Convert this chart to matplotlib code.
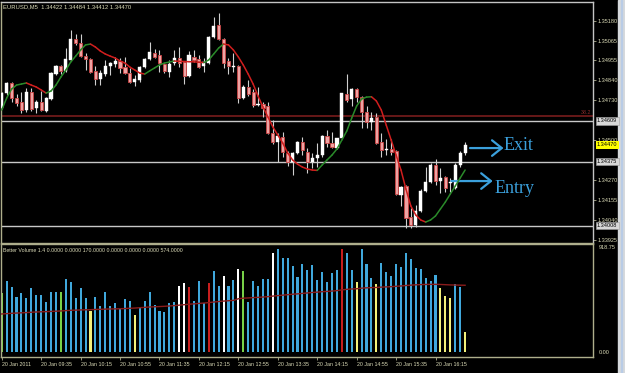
import matplotlib
matplotlib.use('Agg')
import matplotlib.pyplot as plt
import matplotlib.transforms as mtrans
from matplotlib.patches import Rectangle
from matplotlib.collections import LineCollection
import numpy as np

# ---------------- data ----------------
opens = [1.34681, 1.34767, 1.34825, 1.34739, 1.34716, 1.34670, 1.34773, 1.34681, 1.34716, 1.34664,
         1.34733, 1.34876, 1.34922, 1.34894, 1.34957, 1.35077, 1.35054, 1.34979, 1.34962, 1.34894,
         1.34848, 1.34876, 1.34922, 1.34934, 1.34951, 1.34916, 1.34882, 1.34830, 1.34842, 1.34916,
         1.34962, 1.34997, 1.34985, 1.34934, 1.34888, 1.34939, 1.34968, 1.34945, 1.34865, 1.34974,
         1.34962, 1.34922, 1.34939, 1.35088, 1.35157, 1.35077, 1.34951, 1.34916, 1.34922, 1.34739,
         1.34802, 1.34773, 1.34699, 1.34704, 1.34693, 1.34538, 1.34487, 1.34515, 1.34424, 1.34372,
         1.34424, 1.34487, 1.34429, 1.34372, 1.34395, 1.34412, 1.34521, 1.34481, 1.34452, 1.34510,
         1.34762, 1.34733, 1.34790, 1.34744, 1.34659, 1.34601, 1.34630, 1.34487, 1.34441, 1.34447,
         1.34435, 1.34183, 1.34234, 1.34057, 1.34011, 1.34091, 1.34206, 1.34258, 1.34355, 1.34263,
         1.34286, 1.34252, 1.34223, 1.34355, 1.34422]
highs = [1.34773, 1.34830, 1.34830, 1.34762, 1.34773, 1.34796, 1.34796, 1.34727, 1.34779, 1.34744,
         1.34888, 1.34928, 1.34928, 1.35025, 1.35128, 1.35106, 1.35106, 1.34997, 1.34968, 1.34922,
         1.34899, 1.34957, 1.34945, 1.34974, 1.34968, 1.34974, 1.34911, 1.34871, 1.34922, 1.34968,
         1.35060, 1.35020, 1.35014, 1.34939, 1.34957, 1.35014, 1.35031, 1.34951, 1.35008, 1.35014,
         1.34985, 1.34968, 1.35092, 1.35203, 1.35226, 1.35083, 1.34968, 1.34997, 1.34928, 1.34813,
         1.34842, 1.34790, 1.34802, 1.34716, 1.34716, 1.34613, 1.34538, 1.34544, 1.34435, 1.34429,
         1.34492, 1.34515, 1.34452, 1.34424, 1.34481, 1.34527, 1.34555, 1.34544, 1.34510, 1.34770,
         1.34876, 1.34796, 1.34796, 1.34750, 1.34693, 1.34659, 1.34653, 1.34538, 1.34504, 1.34504,
         1.34441, 1.34234, 1.34240, 1.34108, 1.34126, 1.34217, 1.34343, 1.34366, 1.34389, 1.34338,
         1.34292, 1.34280, 1.34366, 1.34435, 1.34484]
lows = [1.34676, 1.34756, 1.34716, 1.34693, 1.34653, 1.34659, 1.34664, 1.34653, 1.34664, 1.34659,
        1.34727, 1.34871, 1.34876, 1.34888, 1.34951, 1.35043, 1.34974, 1.34899, 1.34882, 1.34813,
        1.34813, 1.34865, 1.34871, 1.34916, 1.34882, 1.34876, 1.34825, 1.34808, 1.34830, 1.34911,
        1.34957, 1.34968, 1.34888, 1.34882, 1.34859, 1.34928, 1.34916, 1.34819, 1.34859, 1.34945,
        1.34911, 1.34888, 1.34934, 1.35083, 1.35071, 1.34911, 1.34876, 1.34888, 1.34710, 1.34733,
        1.34750, 1.34687, 1.34693, 1.34630, 1.34532, 1.34475, 1.34372, 1.34401, 1.34349, 1.34298,
        1.34418, 1.34412, 1.34309, 1.34338, 1.34343, 1.34401, 1.34458, 1.34452, 1.34447, 1.34504,
        1.34716, 1.34693, 1.34716, 1.34567, 1.34567, 1.34555, 1.34475, 1.34401, 1.34412, 1.34412,
        1.34183, 1.34120, 1.33994, 1.33994, 1.34000, 1.34086, 1.34200, 1.34252, 1.34240, 1.34194,
        1.34200, 1.34200, 1.34217, 1.34343, 1.34412]
closes = [1.34767, 1.34825, 1.34739, 1.34710, 1.34670, 1.34773, 1.34676, 1.34716, 1.34670, 1.34739,
          1.34882, 1.34922, 1.34894, 1.34962, 1.35077, 1.35054, 1.34979, 1.34962, 1.34888, 1.34848,
          1.34882, 1.34922, 1.34939, 1.34951, 1.34911, 1.34882, 1.34830, 1.34848, 1.34916, 1.34962,
          1.35002, 1.34974, 1.34939, 1.34894, 1.34934, 1.34968, 1.34939, 1.34865, 1.34985, 1.34957,
          1.34916, 1.34945, 1.35088, 1.35151, 1.35077, 1.34939, 1.34922, 1.34922, 1.34739, 1.34802,
          1.34762, 1.34699, 1.34704, 1.34681, 1.34538, 1.34487, 1.34521, 1.34429, 1.34372, 1.34424,
          1.34487, 1.34441, 1.34372, 1.34395, 1.34412, 1.34521, 1.34481, 1.34458, 1.34510, 1.34767,
          1.34727, 1.34790, 1.34744, 1.34659, 1.34601, 1.34624, 1.34481, 1.34441, 1.34447, 1.34429,
          1.34189, 1.34229, 1.34051, 1.34011, 1.34091, 1.34206, 1.34258, 1.34355, 1.34263, 1.34280,
          1.34223, 1.34258, 1.34355, 1.34424, 1.34470]
trend = [1.34670, 1.34739, 1.34790, 1.34813, 1.34819, 1.34825, 1.34813, 1.34802, 1.34785, 1.34767,
         1.34779, 1.34813, 1.34859, 1.34899, 1.34945, 1.34979, 1.35014, 1.35043, 1.35048, 1.35031,
         1.35008, 1.34991, 1.34979, 1.34968, 1.34951, 1.34939, 1.34916, 1.34899, 1.34882, 1.34876,
         1.34894, 1.34911, 1.34928, 1.34939, 1.34945, 1.34951, 1.34949, 1.34948, 1.34947, 1.34946,
         1.34944, 1.34942, 1.34957, 1.34991, 1.35025, 1.35048, 1.35043, 1.35014, 1.34974, 1.34928,
         1.34876, 1.34819, 1.34750, 1.34687, 1.34630, 1.34573, 1.34527, 1.34481, 1.34424, 1.34384,
         1.34360, 1.34343, 1.34332, 1.34326, 1.34324, 1.34355, 1.34384, 1.34412, 1.34447, 1.34498,
         1.34550, 1.34624, 1.34693, 1.34733, 1.34744, 1.34746, 1.34722, 1.34670, 1.34584, 1.34498,
         1.34412, 1.34326, 1.34217, 1.34120, 1.34068, 1.34040, 1.34028, 1.34040, 1.34063, 1.34103,
         1.34143, 1.34189, 1.34234, 1.34280, 1.34326]

volumes = [505, 611, 562, 476, 510, 462, 553, 490, 490, 433,
           516, 519, 519, 628, 599, 467, 548, 467, 355, 470,
           398, 519, 398, 424, 367, 456, 439, 318, 381, 439,
           513, 404, 355, 347, 419, 433, 570, 596, 562, 439,
           611, 419, 591, 699, 570, 656, 570, 619, 711, 697,
           433, 613, 570, 628, 628, 849, 886, 806, 806, 742,
           648, 757, 705, 748, 619, 685, 599, 677, 705, 886,
           849, 705, 599, 886, 757, 639, 585, 763, 685, 654,
           757, 734, 849, 797, 725, 711, 639, 613, 665, 548,
           482, 462, 582, 556, 170]
vol_kinds = ("gbbbbbbbbb" "bbgbbbbbyb" "bbbbbbbybb" "bbbbbbwwrb" "bbrbbwbbwg"
             "bbbbbwbbbb" "bbbbbbbbbr" "bbybbbybbb" "bbbbbbbbby" "yybby")
vol_avg = [327, 330, 333, 335, 337, 339, 342, 344, 346, 347,
           349, 351, 353, 356, 359, 360, 362, 363, 364, 366,
           367, 369, 370, 371, 372, 374, 376, 378, 381, 384,
           387, 389, 391, 393, 396, 399, 403, 407, 411, 414,
           418, 421, 425, 430, 434, 438, 441, 444, 458, 463,
           465, 468, 470, 473, 476, 481, 485, 489, 493, 497,
           500, 504, 508, 512, 515, 519, 521, 524, 528, 534,
           539, 542, 544, 549, 552, 554, 555, 558, 560, 562,
           565, 568, 572, 575, 578, 580, 581, 582, 582, 581,
           579, 577, 576, 575, 574]

time_ticks = [0, 8, 16, 24, 32, 40, 48, 56, 64, 72, 80, 88]
time_labels = ['20 Jan 2011', '20 Jan 09:35', '20 Jan 10:15', '20 Jan 10:55', '20 Jan 11:35',
               '20 Jan 12:15', '20 Jan 12:55', '20 Jan 13:35', '20 Jan 14:15', '20 Jan 14:55',
               '20 Jan 15:35', '20 Jan 16:15']
price_ticks = [1.35180, 1.35065, 1.34955, 1.34840, 1.34730, 1.34500, 1.34270, 1.34155, 1.34040, 1.33925]
level_lines = [1.34609, 1.34375, 1.34008]
fibo_level = 1.34636
fibo_label = '38.2'
current_price = 1.34470
vol_ticks = [918.75, 0.0]
vol_tick_labels = ['918.75', '0.00']
header = 'EURUSD,M5  1.34422 1.34484 1.34412 1.34470'
vol_header = 'Better Volume 1.4 0.0000 0.0000 170.0000 0.0000 0.0000 0.0000 574.0000'
exit_arrow = (95.0, 101.8, 1.34452)
entry_arrow = (91.2, 99.6, 1.34263)
exit_text = (101.7, 1.34466, 'Exit')
entry_text = (100.0, 1.34222, 'Entry')

# ---------------- layout ----------------
W, H = 625, 373
BG = 'black'
FRAME = '#aeae8c'
TXT = '#dcdcb8'
SANS = ['Liberation Sans', 'DejaVu Sans']

fig = plt.figure(figsize=(W / 100, H / 100), dpi=100, facecolor=BG)


def rect(x0, y0, x1, y1):
    return [x0 / W, 1 - y1 / H, (x1 - x0) / W, (y1 - y0) / H]


ax = fig.add_axes(rect(1, 2, 593, 243))
axv = fig.add_axes(rect(1, 244, 593, 357), sharex=ax)
for a in (ax, axv):
    a.set_facecolor(BG)
    for s in a.spines.values():
        s.set_color(FRAME)
        s.set_linewidth(1.0)
ax.spines['top'].set_color('#c4c4c4')
ax.spines['right'].set_color('#c4c4c4')

n = len(opens)
x = np.arange(n)
o = np.array(opens); h = np.array(highs); l = np.array(lows); c = np.array(closes)
up = c >= o

ax.set_xlim(-0.15, 119.95)
ax.set_ylim(1.33908, 1.35289)

# level lines
for lv in level_lines:
    ax.axhline(lv, color='#c8c8c8', lw=1.0, zorder=1)
ax.axhline(fibo_level, color='#6e1a1a', lw=1.3, zorder=1)
ax.text(0.997, fibo_level + 0.00003, fibo_label, transform=mtrans.blended_transform_factory(ax.transAxes, ax.transData),
        ha='right', va='bottom', color='#8e2a2a', fontsize=3.9, family=SANS)

# candles
ax.vlines(x, l, h, colors='#cfcfcf', linewidth=0.8, zorder=2)
ax.bar(x[up], np.maximum((c - o)[up], 0.000004), bottom=o[up], width=0.64,
       color='white', edgecolor='white', linewidth=0.3, zorder=3)
ax.bar(x[~up], (o - c)[~up], bottom=c[~up], width=0.64,
       color='#eda3a3', edgecolor='#cc4545', linewidth=0.6, zorder=3)

# trend line coloured by slope
tr = np.array(trend)
segs = [[(x[i], tr[i]), (x[i + 1], tr[i + 1])] for i in range(n - 1)]
cols = ['#2a8a2a' if tr[i + 1] >= tr[i] else '#d01e1e' for i in range(n - 1)]
ax.add_collection(LineCollection(segs, colors=cols, linewidths=1.1, zorder=4, capstyle='round'))

# right price scale
ax.yaxis.tick_right()
ax.set_yticks(price_ticks)
ax.set_yticklabels(['%.5f' % p for p in price_ticks])
ax.tick_params(axis='y', length=2.5, width=0.6, color=FRAME, labelsize=4.0, labelcolor=TXT, pad=1)
for lab in ax.get_yticklabels():
    lab.set_family(SANS)
ax.tick_params(axis='x', bottom=False, labelbottom=False)

for lv in level_lines:
    ax.annotate('%.5f' % lv, xy=(1, lv), xycoords=('axes fraction', 'data'), xytext=(4, 0),
                textcoords='offset pixels', va='center', ha='left', fontsize=4.0, family=SANS,
                color='black', bbox=dict(boxstyle='square,pad=0.25', fc='#d8d8d8', ec='#a0a0a0', lw=0.4),
                annotation_clip=False)
ax.annotate('%.5f' % current_price, xy=(1, current_price), xycoords=('axes fraction', 'data'), xytext=(4, 0),
            textcoords='offset pixels', va='center', ha='left', fontsize=4.0, family=SANS,
            color='black', bbox=dict(boxstyle='square,pad=0.25', fc='#ffff00', ec='none'),
            annotation_clip=False)

# annotations
BLUE = '#3ba0dc'
for (x0, x1, yv) in (exit_arrow, entry_arrow):
    ax.annotate('', xy=(x1, yv), xytext=(x0, yv),
                arrowprops=dict(arrowstyle='->,head_length=0.5,head_width=0.4', color=BLUE, lw=1.6,
                                mutation_scale=14, shrinkA=0, shrinkB=0),
                annotation_clip=False)
for (tx, ty, s) in (exit_text, entry_text):
    ax.text(tx, ty, s, color=BLUE, fontsize=13, family=['Liberation Serif', 'DejaVu Serif'],
            ha='left', va='center')

# volume panel
kind_colors = {'b': '#40a8dc', 'y': '#f2f07a', 'w': '#ffffff', 'r': '#c81e1e', 'g': '#78d048'}
axv.bar(x, volumes, width=0.42, color=[kind_colors[k] for k in vol_kinds], linewidth=0, zorder=2)
axv.plot(x, vol_avg, color='#8a1c1c', lw=1.0, zorder=3)
axv.set_ylim(-43, 929)
axv.yaxis.tick_right()
axv.set_yticks(vol_ticks)
axv.set_yticklabels(vol_tick_labels)
axv.tick_params(axis='y', length=0, labelsize=4.0, labelcolor=TXT, pad=4)
axv.get_yticklabels()[0].set_va('top')
axv.get_yticklabels()[1].set_va('center')
for lab in axv.get_yticklabels():
    lab.set_family(SANS)

axv.set_xticks(time_ticks)
axv.set_xticklabels(time_labels, ha='left')
axv.tick_params(axis='x', length=2.5, width=0.6, color=FRAME, labelsize=3.8, labelcolor=TXT, pad=1.0)
for lab in axv.get_xticklabels():
    lab.set_family(SANS)

# header texts
fig.text(3 / W, 1 - 6.5 / H, header, color=TXT, fontsize=4.2, family=SANS, va='center', ha='left')
fig.text(3 / W, 1 - 250 / H, vol_header, color=TXT, fontsize=3.8, family=SANS, va='center', ha='left')

# right scrollbar strip
fig.add_artist(Rectangle((618 / W, 0), 7 / W, 1, transform=fig.transFigure, color='#d6d9dc', zorder=0))
fig.add_artist(Rectangle((620.5 / W, 0), 1.5 / W, 1, transform=fig.transFigure, color='#b9cce6', zorder=0))

fig.savefig('out.png', dpi=100, facecolor=BG)
